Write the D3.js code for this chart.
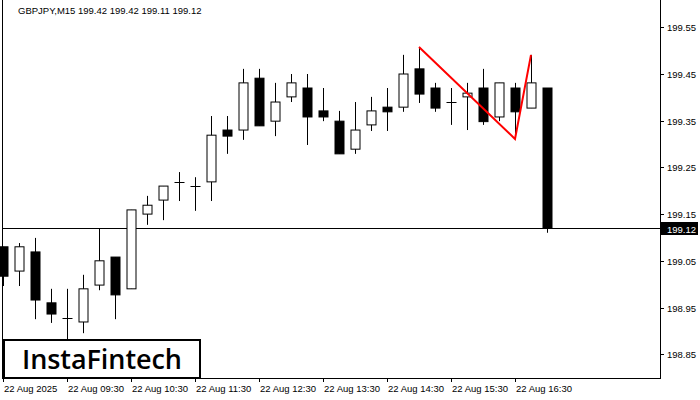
<!DOCTYPE html>
<html><head><meta charset="utf-8">
<script src="https://cdn.jsdelivr.net/npm/d3@7"></script>
<style>body{margin:0;background:#fff}</style>
</head><body>
<svg width="700" height="400"></svg>
<script>
// OHLC, 15 minute candles
var opens  = [199.080,199.028,199.069,198.960,198.928,198.919,198.998,199.058,198.990,199.150,199.180,199.219,199.210,199.219,199.330,199.330,199.441,199.349,199.401,199.420,199.371,199.349,199.289,199.341,199.379,199.379,199.461,199.420,199.390,199.401,199.420,199.358,199.420,199.377,199.420];
var highs  = [199.080,199.088,199.099,198.990,198.990,199.020,199.120,199.058,199.159,199.189,199.210,199.240,199.229,199.360,199.360,199.461,199.461,199.431,199.450,199.450,199.420,199.371,199.390,199.401,199.420,199.491,199.508,199.431,199.420,199.431,199.461,199.431,199.431,199.491,199.420];
var lows   = [198.996,198.996,198.925,198.917,198.874,198.895,198.987,198.925,198.990,199.127,199.137,199.178,199.157,199.178,199.279,199.309,199.339,199.317,199.390,199.298,199.349,199.279,199.279,199.328,199.328,199.369,199.388,199.369,199.341,199.330,199.341,199.349,199.311,199.377,199.110];
var closes = [199.017,199.080,198.966,198.936,198.928,198.990,199.050,198.977,199.159,199.169,199.210,199.219,199.210,199.319,199.317,199.431,199.339,199.390,199.431,199.358,199.358,199.279,199.330,199.371,199.369,199.450,199.407,199.377,199.390,199.409,199.348,199.431,199.369,199.431,199.120];
var timeLabels = ["22 Aug 2025","22 Aug 09:30","22 Aug 10:30","22 Aug 11:30","22 Aug 12:30","22 Aug 13:30","22 Aug 14:30","22 Aug 15:30","22 Aug 16:30"];
var priceTicks = [198.85,198.95,199.05,199.15,199.25,199.35,199.45,199.55];
// pattern: index, price
var patternIdx = [26, 32, 33];
var patternPrice = [199.508, 199.311, 199.491];
var lastPrice = 199.12;

var svg = d3.select("svg");
var x = d3.scaleLinear().domain([0, 1]).range([3, 19]);
var y = d3.scaleLinear().domain([198.85, 199.55]).range([354.2, 27.3]);
var font = "'Liberation Sans', Arial, sans-serif";

// frame
svg.append("line").attr("x1", 2.5).attr("x2", 2.5).attr("y1", 0).attr("y2", 378).attr("stroke", "#000");
svg.append("line").attr("x1", 660.5).attr("x2", 660.5).attr("y1", 0).attr("y2", 378).attr("stroke", "#000");
svg.append("line").attr("x1", 2).attr("x2", 661).attr("y1", 378.5).attr("y2", 378.5).attr("stroke", "#000");

// price axis
var ya = svg.append("g");
priceTicks.forEach(function(p) {
    ya.append("line").attr("x1", 660).attr("x2", 664).attr("y1", Math.round(y(p)) + 0.5).attr("y2", Math.round(y(p)) + 0.5).attr("stroke", "#000");
    ya.append("text").attr("x", 667).attr("y", y(p) + 4).attr("font-family", font).attr("font-size", 9.5).text(p.toFixed(2));
});

// time axis
timeLabels.forEach(function(t, i) {
    var xx = Math.round(x(i * 4)) + 0.5;
    svg.append("line").attr("x1", xx).attr("x2", xx).attr("y1", 378).attr("y2", 382).attr("stroke", "#000");
    svg.append("text").attr("x", x(i * 4) + 1).attr("y", 392).attr("font-family", font).attr("font-size", 9.5).text(t);
});

// current price line
var ly = Math.round(y(lastPrice)) + 0.5;
svg.append("line").attr("x1", 2).attr("x2", 660).attr("y1", ly).attr("y2", ly).attr("stroke", "#000");
svg.append("rect").attr("x", 661).attr("y", ly - 6.5).attr("width", 37).attr("height", 13).attr("fill", "#000");
svg.append("text").attr("x", 667).attr("y", ly + 4).attr("fill", "#fff").attr("font-family", font).attr("font-size", 9.5).text(lastPrice.toFixed(2));

// candles
var g = svg.append("g");
opens.forEach(function(o, i) {
    var c = closes[i], cx = Math.round(x(i)) + 0.5;
    g.append("line").attr("x1", cx).attr("x2", cx).attr("y1", y(highs[i])).attr("y2", y(lows[i])).attr("stroke", "#000");
    var top = y(Math.max(o, c)), bot = y(Math.min(o, c));
    if (Math.abs(bot - top) < 1) {
        g.append("line").attr("x1", cx - 5).attr("x2", cx + 5).attr("y1", Math.round(top) + 0.5).attr("y2", Math.round(top) + 0.5).attr("stroke", "#000");
    } else {
        g.append("rect").attr("x", cx - 4.5).attr("y", top).attr("width", 9).attr("height", bot - top)
            .attr("fill", c >= o ? "#fff" : "#000").attr("stroke", "#000");
    }
});

// pattern line
svg.append("path")
    .attr("d", d3.line().x(function(d, i) { return x(patternIdx[i]); }).y(function(d) { return y(d); })(patternPrice))
    .attr("fill", "none").attr("stroke", "#ff0000").attr("stroke-width", 2);

// title
svg.append("text").attr("x", 18).attr("y", 14).attr("font-family", font).attr("font-size", 9.5)
    .text("GBPJPY,M15  199.42 199.42 199.11 199.12");

// logo
svg.append("rect").attr("x", 4).attr("y", 340).attr("width", 196).attr("height", 38).attr("fill", "#fff").attr("stroke", "#000").attr("stroke-width", 2);
svg.append("text").attr("x", 102).attr("y", 369).attr("text-anchor", "middle").attr("font-family", "'Open Sans', sans-serif")
    .attr("font-weight", 600).attr("font-size", 27).attr("textLength", 160).text("InstaFintech");
</script>
</body></html>
